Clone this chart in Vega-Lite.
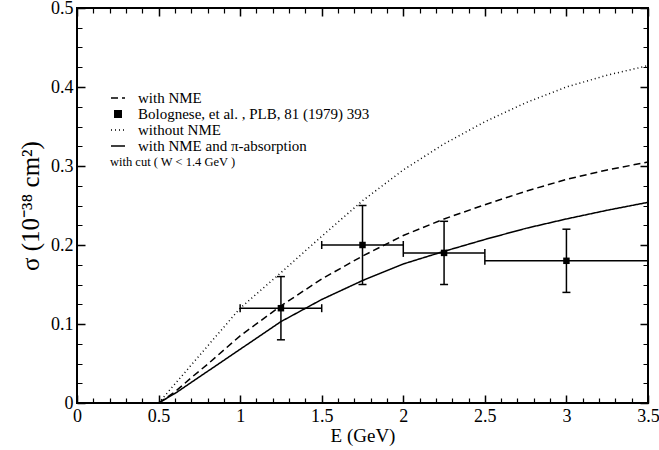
{
  "$schema": "https://vega.github.io/schema/vega-lite/v6.json",
  "autosize": "none",
  "width": 571,
  "height": 395,
  "padding": {"left": 77, "top": 8, "right": 11, "bottom": 47},
  "background": "white",
  "config": {
    "font": "Liberation Serif, serif",
    "view": {"stroke": "black", "strokeWidth": 2},
    "legend": {"labelFont": "Liberation Serif, serif", "titleFont": "Liberation Serif, serif"}
  },
  "datasets": {
    "curves": [
      {"series": "with NME", "E": 0.5, "sigma": 0.0},
      {"series": "with NME", "E": 0.6, "sigma": 0.014},
      {"series": "with NME", "E": 0.7, "sigma": 0.032},
      {"series": "with NME", "E": 0.8, "sigma": 0.049},
      {"series": "with NME", "E": 0.9, "sigma": 0.067},
      {"series": "with NME", "E": 1.0, "sigma": 0.085},
      {"series": "with NME", "E": 1.25, "sigma": 0.123},
      {"series": "with NME", "E": 1.5, "sigma": 0.157},
      {"series": "with NME", "E": 1.75, "sigma": 0.186},
      {"series": "with NME", "E": 2.0, "sigma": 0.212},
      {"series": "with NME", "E": 2.25, "sigma": 0.233},
      {"series": "with NME", "E": 2.5, "sigma": 0.251},
      {"series": "with NME", "E": 2.75, "sigma": 0.268},
      {"series": "with NME", "E": 3.0, "sigma": 0.283},
      {"series": "with NME", "E": 3.25, "sigma": 0.295},
      {"series": "with NME", "E": 3.5, "sigma": 0.305},
      {"series": "without NME", "E": 0.5, "sigma": 0.0},
      {"series": "without NME", "E": 0.6, "sigma": 0.024},
      {"series": "without NME", "E": 0.7, "sigma": 0.048},
      {"series": "without NME", "E": 0.8, "sigma": 0.072},
      {"series": "without NME", "E": 0.9, "sigma": 0.096},
      {"series": "without NME", "E": 1.0, "sigma": 0.12},
      {"series": "without NME", "E": 1.25, "sigma": 0.165},
      {"series": "without NME", "E": 1.5, "sigma": 0.211},
      {"series": "without NME", "E": 1.75, "sigma": 0.256},
      {"series": "without NME", "E": 2.0, "sigma": 0.295},
      {"series": "without NME", "E": 2.25, "sigma": 0.328},
      {"series": "without NME", "E": 2.5, "sigma": 0.356},
      {"series": "without NME", "E": 2.75, "sigma": 0.38},
      {"series": "without NME", "E": 3.0, "sigma": 0.4},
      {"series": "without NME", "E": 3.25, "sigma": 0.415},
      {"series": "without NME", "E": 3.5, "sigma": 0.427},
      {"series": "with NME and π-absorption", "E": 0.5, "sigma": 0.0},
      {"series": "with NME and π-absorption", "E": 0.6, "sigma": 0.012},
      {"series": "with NME and π-absorption", "E": 0.7, "sigma": 0.026},
      {"series": "with NME and π-absorption", "E": 0.8, "sigma": 0.04},
      {"series": "with NME and π-absorption", "E": 0.9, "sigma": 0.054},
      {"series": "with NME and π-absorption", "E": 1.0, "sigma": 0.068},
      {"series": "with NME and π-absorption", "E": 1.25, "sigma": 0.103},
      {"series": "with NME and π-absorption", "E": 1.5, "sigma": 0.131},
      {"series": "with NME and π-absorption", "E": 1.75, "sigma": 0.155},
      {"series": "with NME and π-absorption", "E": 2.0, "sigma": 0.176},
      {"series": "with NME and π-absorption", "E": 2.25, "sigma": 0.192},
      {"series": "with NME and π-absorption", "E": 2.5, "sigma": 0.207},
      {"series": "with NME and π-absorption", "E": 2.75, "sigma": 0.221},
      {"series": "with NME and π-absorption", "E": 3.0, "sigma": 0.233},
      {"series": "with NME and π-absorption", "E": 3.25, "sigma": 0.244},
      {"series": "with NME and π-absorption", "E": 3.5, "sigma": 0.254}
    ],
    "points": [
      {"series": "Bolognese, et al. , PLB, 81 (1979) 393", "E": 1.25, "sigma": 0.12, "Elo": 1.0, "Ehi": 1.5, "slo": 0.08, "shi": 0.16},
      {"series": "Bolognese, et al. , PLB, 81 (1979) 393", "E": 1.75, "sigma": 0.2, "Elo": 1.5, "Ehi": 2.0, "slo": 0.15, "shi": 0.25},
      {"series": "Bolognese, et al. , PLB, 81 (1979) 393", "E": 2.25, "sigma": 0.19, "Elo": 2.0, "Ehi": 2.5, "slo": 0.15, "shi": 0.23},
      {"series": "Bolognese, et al. , PLB, 81 (1979) 393", "E": 3.0, "sigma": 0.18, "Elo": 2.5, "Ehi": 3.5, "slo": 0.14, "shi": 0.22}
    ]
  },
  "resolve": {"axis": {"x": "independent", "y": "independent"}},
  "layer": [
    {
      "data": {"name": "points"},
      "mark": {"type": "point", "opacity": 0},
      "encoding": {
        "x": {"field": "E", "type": "quantitative", "scale": {"domain": [0, 3.5], "nice": false},
          "axis": {"orient": "bottom", "values": [0, 0.5, 1, 1.5, 2, 2.5, 3, 3.5], "format": "~g", "domain": false, "ticks": false, "grid": true, "gridColor": "black", "gridOpacity": 1, "gridWidth": 1.5, "gridDash": [8, 379, 8, 1000], "labelColor": "black", "labelFont": "Liberation Serif, serif", "labelFontSize": 18, "labelPadding": 4, "labelFlush": false, "title": "E (GeV)", "titleFont": "Liberation Serif, serif", "titleColor": "black", "titleFontSize": 19, "titleFontWeight": "normal", "titlePadding": 1}},
        "y": {"field": "sigma", "type": "quantitative", "scale": {"domain": [0, 0.5], "nice": false},
          "axis": {"orient": "left", "values": [0, 0.1, 0.2, 0.3, 0.4, 0.5], "format": "~g", "domain": false, "ticks": false, "grid": true, "gridColor": "black", "gridOpacity": 1, "gridWidth": 1.5, "gridDash": [8, 555, 8, 1000], "labelColor": "black", "labelFont": "Liberation Serif, serif", "labelFontSize": 18, "labelPadding": 4, "labelFlush": false, "title": "σ (10⁻³⁸ cm²)", "titleFont": "Liberation Serif, serif", "titleColor": "black", "titleFontSize": 25, "titleFontWeight": "normal", "titlePadding": 7}}
      }
    },
    {
      "data": {"name": "points"},
      "mark": {"type": "point", "opacity": 0},
      "encoding": {
        "x": {"field": "E", "type": "quantitative", "scale": {"domain": [0, 3.5], "nice": false},
          "axis": {"orient": "top", "values": [0.1, 0.2, 0.3, 0.4, 0.6, 0.7, 0.8, 0.9, 1.1, 1.2, 1.3, 1.4, 1.6, 1.7, 1.8, 1.9, 2.1, 2.2, 2.3, 2.4, 2.6, 2.7, 2.8, 2.9, 3.1, 3.2, 3.3, 3.4], "labels": false, "domain": false, "ticks": false, "title": null, "grid": true, "gridColor": "black", "gridOpacity": 1, "gridWidth": 1.2, "gridDash": [5, 385, 5, 1000]}},
        "y": {"field": "sigma", "type": "quantitative", "scale": {"domain": [0, 0.5], "nice": false},
          "axis": {"orient": "right", "values": [0.025, 0.05, 0.075, 0.125, 0.15, 0.175, 0.225, 0.25, 0.275, 0.325, 0.35, 0.375, 0.425, 0.45, 0.475], "labels": false, "domain": false, "ticks": false, "title": null, "grid": true, "gridColor": "black", "gridOpacity": 1, "gridWidth": 1.2, "gridDash": [5, 561, 5, 1000]}}
      }
    },
    {
      "data": {"name": "curves"},
      "mark": {"type": "line", "color": "black", "strokeWidth": 1.5},
      "encoding": {
        "x": {"field": "E", "type": "quantitative", "scale": {"domain": [0, 3.5], "nice": false}, "axis": null},
        "y": {"field": "sigma", "type": "quantitative", "scale": {"domain": [0, 0.5], "nice": false}, "axis": null},
        "strokeDash": {"field": "series", "type": "nominal",
          "scale": {"domain": ["with NME", "Bolognese, et al. , PLB, 81 (1979) 393", "without NME", "with NME and π-absorption"], "range": [[7, 4], [1, 0], [1, 3], [1, 0]]},
          "legend": {"orient": "none", "legendX": 33, "legendY": 82, "title": "with cut ( W < 1.4 GeV )", "titleOrient": "bottom", "titleAnchor": "start", "titleFontSize": 12.5, "titleFontWeight": "normal", "titleColor": "black", "titlePadding": 2, "labelFontSize": 15, "labelColor": "black", "labelOffset": 12, "labelLimit": 400, "rowPadding": 0, "padding": 0, "symbolType": "stroke", "symbolSize": 196, "symbolStrokeColor": "black", "symbolStrokeWidth": 1.5,
            "encode": {"symbols": {"update": {
              "shape": {"signal": "datum.value === 'Bolognese, et al. , PLB, 81 (1979) 393' ? 'square' : 'stroke'"},
              "size": {"signal": "datum.value === 'Bolognese, et al. , PLB, 81 (1979) 393' ? 42 : 196"},
              "fill": {"signal": "datum.value === 'Bolognese, et al. , PLB, 81 (1979) 393' ? 'black' : 'transparent'"},
              "stroke": {"value": "black"},
              "strokeWidth": {"value": 1.5}
            }}}}}
      }
    },
    {
      "data": {"name": "points"},
      "mark": {"type": "rule", "color": "black", "strokeWidth": 1.5},
      "encoding": {
        "x": {"field": "Elo", "type": "quantitative", "scale": {"domain": [0, 3.5], "nice": false}, "axis": null},
        "x2": {"field": "Ehi"},
        "y": {"field": "sigma", "type": "quantitative", "scale": {"domain": [0, 0.5], "nice": false}, "axis": null}
      }
    },
    {
      "data": {"name": "points"},
      "mark": {"type": "rule", "color": "black", "strokeWidth": 1.5},
      "encoding": {
        "x": {"field": "E", "type": "quantitative", "scale": {"domain": [0, 3.5], "nice": false}, "axis": null},
        "y": {"field": "slo", "type": "quantitative", "scale": {"domain": [0, 0.5], "nice": false}, "axis": null},
        "y2": {"field": "shi"}
      }
    },
    {
      "data": {"name": "points"},
      "mark": {"type": "tick", "color": "black", "orient": "vertical", "size": 8, "thickness": 1.5, "opacity": 1},
      "encoding": {
        "x": {"field": "Elo", "type": "quantitative", "scale": {"domain": [0, 3.5], "nice": false}, "axis": null},
        "y": {"field": "sigma", "type": "quantitative", "scale": {"domain": [0, 0.5], "nice": false}, "axis": null}
      }
    },
    {
      "data": {"name": "points"},
      "mark": {"type": "tick", "color": "black", "orient": "vertical", "size": 8, "thickness": 1.5, "opacity": 1},
      "encoding": {
        "x": {"field": "Ehi", "type": "quantitative", "scale": {"domain": [0, 3.5], "nice": false}, "axis": null},
        "y": {"field": "sigma", "type": "quantitative", "scale": {"domain": [0, 0.5], "nice": false}, "axis": null}
      }
    },
    {
      "data": {"name": "points"},
      "mark": {"type": "tick", "color": "black", "orient": "horizontal", "size": 8, "thickness": 1.5, "opacity": 1},
      "encoding": {
        "x": {"field": "E", "type": "quantitative", "scale": {"domain": [0, 3.5], "nice": false}, "axis": null},
        "y": {"field": "slo", "type": "quantitative", "scale": {"domain": [0, 0.5], "nice": false}, "axis": null}
      }
    },
    {
      "data": {"name": "points"},
      "mark": {"type": "tick", "color": "black", "orient": "horizontal", "size": 8, "thickness": 1.5, "opacity": 1},
      "encoding": {
        "x": {"field": "E", "type": "quantitative", "scale": {"domain": [0, 3.5], "nice": false}, "axis": null},
        "y": {"field": "shi", "type": "quantitative", "scale": {"domain": [0, 0.5], "nice": false}, "axis": null}
      }
    },
    {
      "data": {"name": "points"},
      "mark": {"type": "square", "color": "black", "size": 42, "opacity": 1},
      "encoding": {
        "x": {"field": "E", "type": "quantitative", "scale": {"domain": [0, 3.5], "nice": false}, "axis": null},
        "y": {"field": "sigma", "type": "quantitative", "scale": {"domain": [0, 0.5], "nice": false}, "axis": null}
      }
    }
  ]
}
